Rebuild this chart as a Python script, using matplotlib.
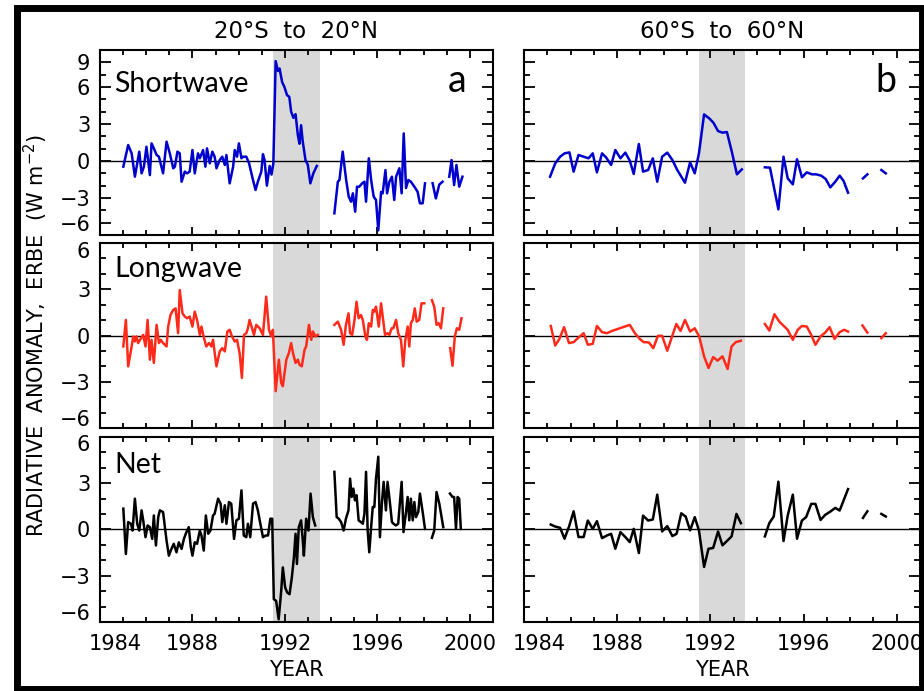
import numpy as np
import matplotlib
matplotlib.use('Agg')
import matplotlib.pyplot as plt
from matplotlib.patches import Rectangle
from matplotlib.ticker import MultipleLocator

plt.rcParams['font.family'] = ['DejaVu Sans']
plt.rcParams['font.size'] = 15

# ERBE radiative anomalies (W m-2), (year, value); None = data gap
sw_trop = [(1985.01,-0.46),(1985.22,1.30),(1985.37,0.62),(1985.51,-1.27),(1985.70,0.76),(1985.80,-1.00),
           (1985.90,-0.46),(1986.01,1.16),(1986.16,-1.14),(1986.23,1.43),(1986.33,1.03),(1986.45,0.49),
           (1986.55,0.35),(1986.66,-0.46),(1986.73,-1.00),(1986.88,1.57),(1987.02,0.62),(1987.17,-0.59),
           (1987.24,-0.46),(1987.35,0.76),(1987.45,0.62),(1987.53,-1.68),(1987.67,-0.86),(1987.77,-1.00),
           (1987.88,-0.86),(1988.00,0.89),(1988.10,-1.00),(1988.24,0.62),(1988.32,0.22),(1988.46,0.89),
           (1988.56,-0.46),(1988.63,1.03),(1988.75,-0.19),(1988.86,0.76),(1988.96,0.35),(1989.04,-0.59),
           (1989.18,0.08),(1989.29,0.35),(1989.40,-0.32),(1989.47,0.49),(1989.61,-1.81),(1989.76,-0.46),
           (1989.83,0.89),(1989.93,0.35),(1990.01,1.43),(1990.12,0.22),(1990.19,0.35),(1990.33,0.35),
           (1990.45,-0.19),(1990.55,-1.00),(1990.62,-1.54),(1990.73,-2.35),(1990.83,-1.68),(1990.98,-0.86),
           (1991.05,0.55),(1991.12,0.08),(1991.22,-2.00),(1991.34,-0.40),(1991.42,-1.10),(1991.50,-0.20),
           (1991.60,8.10),(1991.70,7.30),(1991.77,7.50),(1991.88,6.40),(1991.98,6.00),(1992.09,5.35),
           (1992.19,5.20),(1992.27,4.00),(1992.37,3.50),(1992.46,3.80),(1992.56,2.10),(1992.63,1.40),
           (1992.70,2.90),(1992.77,1.60),(1992.89,0.08),(1992.99,-0.30),(1993.10,-1.81),(1993.23,-1.00),
           (1993.38,-0.40), None,
           (1994.14,-4.24),(1994.29,-1.68),(1994.36,-1.54),(1994.50,0.76),(1994.65,-1.54),(1994.76,-2.89),
           (1994.86,-3.30),(1994.94,-2.62),(1995.04,-4.11),(1995.12,-2.08),(1995.22,-2.08),(1995.34,-1.81),
           (1995.44,-1.68),(1995.51,-3.30),(1995.63,0.22),(1995.73,-1.54),(1995.84,-2.89),(1995.94,-3.16),
           (1996.04,-5.62),(1996.16,-2.51),(1996.23,-2.62),(1996.35,-0.73),(1996.42,-2.62),(1996.52,-1.68),
           (1996.63,-1.27),(1996.73,-3.16),(1996.81,-1.27),(1996.95,-0.59),(1997.05,-2.62),(1997.14,2.24),
           (1997.24,-2.19),(1997.34,-1.54),(1997.45,-1.68),(1997.60,-2.08),(1997.74,-2.49),(1997.84,-3.43),
           (1997.96,-3.43),(1998.06,-1.81), None,
           (1998.39,-1.80),(1998.53,-3.03),(1998.68,-1.90),(1998.82,-1.68), None,
           (1999.11,-1.27),(1999.21,0.08),(1999.32,-1.95),(1999.42,-0.32),(1999.54,-2.08),(1999.68,-1.27)]

lw_trop = [(1985.01,-0.71),(1985.12,1.01),(1985.22,-2.00),(1985.37,-0.71),(1985.44,-0.06),(1985.51,-0.39),
           (1985.58,-0.06),(1985.65,-0.49),(1985.73,-0.28),(1985.87,0.04),(1985.97,-0.71),(1986.06,1.01),
           (1986.16,-1.57),(1986.23,-0.28),(1986.33,-1.78),(1986.45,0.69),(1986.55,-0.49),(1986.63,-0.28),
           (1986.73,-0.49),(1986.88,-0.71),(1986.95,0.58),(1987.05,1.33),(1987.17,1.66),(1987.27,1.76),
           (1987.38,0.15),(1987.45,2.95),(1987.57,1.44),(1987.67,1.23),(1987.77,1.12),(1987.88,1.23),
           (1988.00,0.58),(1988.10,1.55),(1988.20,1.01),(1988.32,0.04),(1988.39,0.58),(1988.50,-0.17),
           (1988.60,-0.71),(1988.72,-0.49),(1988.82,-0.71),(1988.89,-0.28),(1989.04,-2.00),(1989.18,-1.03),
           (1989.29,-0.82),(1989.40,-1.03),(1989.51,0.26),(1989.61,0.37),(1989.71,-0.06),(1989.83,-0.39),
           (1989.93,-0.28),(1990.04,-1.14),(1990.14,-2.75),(1990.23,0.04),(1990.33,0.15),(1990.40,0.47),
           (1990.47,1.01),(1990.58,0.47),(1990.66,0.04),(1990.76,0.69),(1990.91,0.47),(1991.05,0.04),
           (1991.19,2.52),(1991.31,0.37),(1991.41,-0.06),(1991.48,0.37),(1991.60,-3.61),(1991.74,-1.57),
           (1991.84,-3.08),(1991.91,-3.29),(1992.06,-1.57),(1992.17,-1.14),(1992.27,-0.49),(1992.35,-1.14),
           (1992.46,-1.78),(1992.56,-1.57),(1992.63,-1.89),(1992.73,-2.00),(1992.85,-0.92),(1992.92,-0.71),
           (1993.04,0.69),(1993.14,-0.28),(1993.21,0.26),(1993.32,-0.06),(1993.42,0.04), None,
           (1994.14,0.69),(1994.29,0.90),(1994.43,0.37),(1994.54,-0.60),(1994.64,0.69),(1994.75,1.44),
           (1994.82,0.15),(1994.91,0.04),(1995.01,1.01),(1995.10,2.19),(1995.19,1.12),(1995.29,1.33),
           (1995.37,1.01),(1995.48,-0.06),(1995.55,-0.28),(1995.63,0.80),(1995.73,0.58),(1995.80,1.66),
           (1995.87,1.55),(1995.94,1.87),(1996.06,0.58),(1996.16,2.09),(1996.23,1.23),(1996.33,0.04),
           (1996.44,0.15),(1996.52,0.04),(1996.62,0.47),(1996.69,0.47),(1996.81,1.01),(1996.90,0.15),
           (1997.02,-0.28),(1997.12,-2.00),(1997.21,-0.28),(1997.31,0.58),(1997.38,-0.71),(1997.45,0.80),
           (1997.53,1.01),(1997.62,1.76),(1997.70,0.90),(1997.81,1.01),(1997.91,2.09),(1998.03,2.09), None,
           (1998.36,2.30),(1998.46,1.87),(1998.56,0.69),(1998.65,0.80),(1998.75,0.47),(1998.85,1.76), None,
           (1999.15,-0.82),(1999.25,-1.96),(1999.35,-0.06),(1999.44,0.47),(1999.54,0.37),(1999.64,1.12)]

net_trop = [(1985.01,1.35),(1985.12,-1.59),(1985.22,0.48),(1985.34,0.37),(1985.41,-0.07),(1985.51,2.00),
            (1985.61,0.37),(1985.70,-0.07),(1985.80,1.24),(1985.87,0.59),(1985.97,-0.50),(1986.06,0.26),
            (1986.16,0.15),(1986.26,-0.61),(1986.33,0.91),(1986.42,-1.04),(1986.52,0.80),(1986.59,1.24),
            (1986.73,1.13),(1986.88,-0.72),(1986.98,-1.70),(1987.09,-1.26),(1987.19,-0.93),(1987.31,-1.48),
            (1987.41,-0.83),(1987.53,-1.26),(1987.63,-0.61),(1987.74,-0.17),(1987.84,0.15),(1987.93,-1.15),
            (1988.00,-1.70),(1988.10,-0.83),(1988.20,-0.93),(1988.32,-0.07),(1988.39,-0.39),(1988.49,-1.37),
            (1988.58,0.91),(1988.68,-0.28),(1988.78,-0.07),(1988.89,0.91),(1988.96,1.02),(1989.11,2.00),
            (1989.22,1.67),(1989.29,0.48),(1989.40,1.57),(1989.47,0.37),(1989.58,1.78),(1989.68,1.67),
            (1989.80,-0.61),(1989.90,0.59),(1990.01,0.70),(1990.12,2.54),(1990.22,-0.39),(1990.33,-0.50),
            (1990.40,0.37),(1990.50,-0.50),(1990.62,1.67),(1990.73,1.78),(1990.83,1.24),(1990.91,0.59),
            (1991.05,-0.50),(1991.17,-0.39),(1991.27,-0.39),(1991.37,0.70),(1991.45,0.70),(1991.52,-4.52),
            (1991.62,-4.63),(1991.73,-5.83),(1991.84,-3.98),(1991.91,-2.46),(1992.01,-3.76),(1992.10,-4.09),
            (1992.20,-4.20),(1992.30,-3.11),(1992.39,-1.80),(1992.46,-0.28),(1992.52,-2.24),(1992.60,0.15),
            (1992.70,0.59),(1992.78,-0.83),(1992.82,-1.70),(1992.92,0.70),(1993.02,-0.07),(1993.11,2.33),
            (1993.21,0.80),(1993.31,0.26), None,
            (1994.14,3.74),(1994.24,0.80),(1994.33,0.70),(1994.43,0.48),(1994.54,-0.07),(1994.64,0.70),
            (1994.75,1.24),(1994.82,3.30),(1994.89,2.11),(1994.96,2.65),(1995.03,1.89),(1995.10,2.22),
            (1995.19,0.59),(1995.29,0.48),(1995.37,0.37),(1995.44,1.02),(1995.51,3.74),(1995.58,-0.07),
            (1995.65,-1.48),(1995.73,0.15),(1995.80,1.46),(1995.87,1.46),(1995.94,3.30),(1996.04,4.72),
            (1996.11,-0.50),(1996.20,1.78),(1996.27,3.09),(1996.37,1.24),(1996.44,3.09),(1996.54,1.78),
            (1996.63,0.48),(1996.70,0.37),(1996.80,0.26),(1996.90,0.37),(1997.05,3.09),(1997.13,-0.17),
            (1997.23,1.02),(1997.31,2.11),(1997.38,0.59),(1997.45,2.00),(1997.53,0.59),(1997.60,1.78),
            (1997.67,0.80),(1997.77,1.13),(1997.84,2.33),(1997.96,1.13),(1998.06,0.04), None,
            (1998.36,-0.54),(1998.46,-0.07),(1998.56,2.43),(1998.68,1.67),(1998.85,0.15), None,
            (1999.14,2.33),(1999.25,2.11),(1999.32,2.11),(1999.40,0.04),(1999.47,2.11),(1999.54,2.00),
            (1999.61,0.04)]

sw_60 = [(1985.12,-1.27),(1985.34,-0.19),(1985.55,0.35),(1985.74,0.62),(1985.95,0.70),(1986.13,-0.86),
         (1986.34,0.49),(1986.56,0.35),(1986.77,0.22),(1986.95,0.62),(1987.13,-0.92),(1987.35,0.62),
         (1987.52,0.30),(1987.74,-0.32),(1987.92,0.89),(1988.14,0.22),(1988.35,0.68),(1988.54,0.03),
         (1988.71,-1.05),(1988.93,1.38),(1989.11,-0.86),(1989.33,-0.73),(1989.53,0.22),(1989.72,-1.68),
         (1989.93,0.35),(1990.15,0.68),(1990.37,0.08),(1990.58,-0.73),(1990.91,-1.76),(1991.13,-0.11),
         (1991.33,-1.00),(1991.51,0.62),(1991.73,3.78),(1991.95,3.46),(1992.13,3.11),(1992.33,2.43),
         (1992.52,2.30),(1992.71,2.35),(1992.92,0.76),(1993.14,-1.08),(1993.35,-0.68), None,
         (1994.34,-0.51),(1994.56,-0.54),(1994.92,-3.92),(1995.14,0.35),(1995.32,-1.41),(1995.54,-1.89),
         (1995.72,0.14),(1995.93,-1.32),(1996.14,-0.92),(1996.36,-1.08),(1996.54,-1.08),(1996.76,-1.19),
         (1996.95,-1.46),(1997.15,-2.14),(1997.36,-1.68),(1997.55,-1.19),(1997.72,-1.62),(1997.91,-2.57), None,
         (1998.55,-1.41),(1998.74,-1.08), None,
         (1999.34,-0.73),(1999.53,-1.00)]

lw_60 = [(1985.15,0.62),(1985.34,-0.65),(1985.52,-0.22),(1985.72,0.54),(1985.93,-0.49),(1986.13,-0.43),
         (1986.34,-0.13),(1986.56,0.15),(1986.74,-0.60),(1986.95,-0.54),(1987.13,0.62),(1987.35,0.22),
         (1987.56,0.15),(1987.78,0.30),(1988.54,0.69),(1988.76,0.15),(1988.97,-0.22),(1989.14,-0.43),
         (1989.36,-0.45),(1989.55,-0.82),(1989.75,-0.02),(1989.93,-0.02),(1990.15,-0.99),(1990.34,-0.13),
         (1990.54,0.75),(1990.72,0.30),(1990.91,1.01),(1991.13,0.26),(1991.33,0.47),(1991.52,-0.06),
         (1991.73,-1.35),(1991.92,-2.11),(1992.12,-1.40),(1992.31,-1.63),(1992.52,-1.35),(1992.74,-2.17),
         (1992.91,-0.71),(1993.09,-0.43),(1993.31,-0.34), None,
         (1994.34,0.75),(1994.53,0.32),(1994.75,1.38),(1994.96,0.90),(1995.15,0.62),(1995.32,0.37),
         (1995.54,-0.28),(1995.75,0.37),(1995.93,0.62),(1996.14,0.58),(1996.33,0.04),(1996.51,-0.60),
         (1996.73,-0.06),(1996.93,0.19),(1997.12,0.54),(1997.33,-0.22),(1997.55,0.22),(1997.74,0.37),
         (1997.91,0.26), None,
         (1998.53,0.65),(1998.74,0.19), None,
         (1999.34,-0.17),(1999.53,0.15)]

net_60 = [(1985.15,0.32),(1985.34,0.19),(1985.55,0.11),(1985.74,-0.60),(1985.94,0.22),(1986.13,1.18),
          (1986.34,-0.49),(1986.56,-0.49),(1986.74,0.58),(1986.95,0.04),(1987.13,0.54),(1987.35,-0.56),
          (1987.56,-0.39),(1987.74,-0.28),(1987.92,-1.25),(1988.14,-0.17),(1988.35,-0.49),(1988.54,-0.82),
          (1988.71,0.04),(1988.93,-1.53),(1989.11,0.90),(1989.33,0.58),(1989.53,0.65),(1989.72,2.26),
          (1989.93,-0.13),(1990.15,0.22),(1990.37,-0.43),(1990.55,-0.28),(1990.75,1.05),(1990.94,0.84),
          (1991.13,-0.06),(1991.33,0.80),(1991.51,-0.06),(1991.73,-2.43),(1991.92,-1.25),(1992.12,-1.20),
          (1992.33,-0.13),(1992.52,-1.03),(1992.71,-0.75),(1992.91,-0.45),(1993.12,1.01),(1993.31,0.41), None,
          (1994.34,-0.45),(1994.53,0.41),(1994.72,0.84),(1994.92,3.10),(1995.14,-0.75),(1995.32,0.90),
          (1995.54,2.26),(1995.72,-0.60),(1995.93,0.58),(1996.11,0.80),(1996.33,1.66),(1996.51,1.66),
          (1996.73,0.62),(1996.93,0.95),(1997.15,1.16),(1997.36,1.40),(1997.55,1.23),(1997.91,2.62), None,
          (1998.55,0.75),(1998.74,1.18), None,
          (1999.34,1.01),(1999.53,0.84)]

pinatubo = (1991.5, 1993.5)
titles = ['20\u00b0S  to  20\u00b0N', '60\u00b0S  to  60\u00b0N']
row_names = ['Shortwave', 'Longwave', 'Net']
row_colors = ['#0000cd', '#ff2a1a', 'black']
name_y = [0.773, 0.816, 0.805]


def split(pairs):
    yr = [np.nan if p is None else p[0] for p in pairs]
    val = [np.nan if p is None else p[1] for p in pairs]
    return np.array(yr), np.array(val)


series = [[sw_trop, sw_60], [lw_trop, lw_60], [net_trop, net_60]]

fig = plt.figure(figsize=(9.24, 6.91), dpi=100)
lefts = [0.1082, 0.5671]
widths = [0.4253, 0.4286]
bottoms = [0.6599, 0.3806, 0.0999]
h = 0.2677

for r in range(3):
    for c in range(2):
        ax = fig.add_axes([lefts[c], bottoms[r], widths[c], h])
        ax.axvspan(pinatubo[0], pinatubo[1], color='#d9d9d9', lw=0, zorder=0)
        ax.axhline(0, color='black', lw=1.0, zorder=1)
        yr, val = split(series[r][c])
        ax.plot(yr, val, color=row_colors[r], lw=1.8, zorder=2)
        ax.set_xlim(1984, 2001)
        ax.set_xticks([1984, 1988, 1992, 1996, 2000])
        ax.xaxis.set_minor_locator(MultipleLocator(1))
        ax.yaxis.set_minor_locator(MultipleLocator(1))
        if r == 0:
            ax.set_ylim(-6, 9)
            ax.set_yticks([8, 6, 3, 0, -3, -5])
            ax.set_yticklabels(['9', '6', '3', '0', '\u22123', '\u22126'])
        else:
            ax.set_ylim(-6, 6)
            ax.set_yticks([3, 0, -3])
            ax.set_yticklabels(['3', '0', '\u22123'])
            if c == 0:
                for yv, s in [(5.45, '6'), (-5.5, '\u22126')]:
                    ax.annotate(s, xy=(0, yv), xycoords=('axes fraction', 'data'),
                                xytext=(-7, 0), textcoords='offset points',
                                ha='right', va='center', fontsize=15)
        for sp in ax.spines.values():
            sp.set_linewidth(1.5)
        ax.tick_params(which='both', direction='in', top=True, right=True, width=1.3)
        ax.tick_params(axis='y', which='major', length=8, pad=7)
        ax.tick_params(axis='y', which='minor', length=4.5)
        ax.tick_params(axis='x', which='major', length=6, pad=9)
        ax.tick_params(axis='x', which='minor', length=3.5)
        if c == 1:
            ax.tick_params(labelleft=False)
        if r < 2:
            ax.tick_params(labelbottom=False)
        else:
            ax.set_xticklabels(['', '1988', '1992', '1996', '2000'])
            ax.annotate('1984', xy=(1984.65, 0), xycoords=('data', 'axes fraction'),
                        xytext=(0, -9), textcoords='offset points',
                        ha='center', va='top', fontsize=15)
            ax.set_xlabel('YEAR', fontsize=15, labelpad=4)
        if r == 0:
            ax.set_title(titles[c], fontsize=16.5, pad=8.5)
            ax.text([0.932, 0.94][c], 0.775, 'ab'[c], transform=ax.transAxes, ha='right',
                    va='baseline', fontsize=27, family='Lato')
        if c == 0:
            ax.text(0.036, name_y[r], row_names[r], transform=ax.transAxes,
                    ha='left', va='baseline', fontsize=20.5, family='Lato')

fig.text(0.039, 0.5137, 'RADIATIVE  ANOMALY,  ERBE  (W m$^{-2}$)', rotation=90,
         ha='center', va='center', fontsize=15)

fig.patches.append(Rectangle((0.0179, 0.0022), 0.98, 0.9855, transform=fig.transFigure,
                             fill=False, lw=5, ec='black'))

fig.savefig('out.png', dpi=100)
